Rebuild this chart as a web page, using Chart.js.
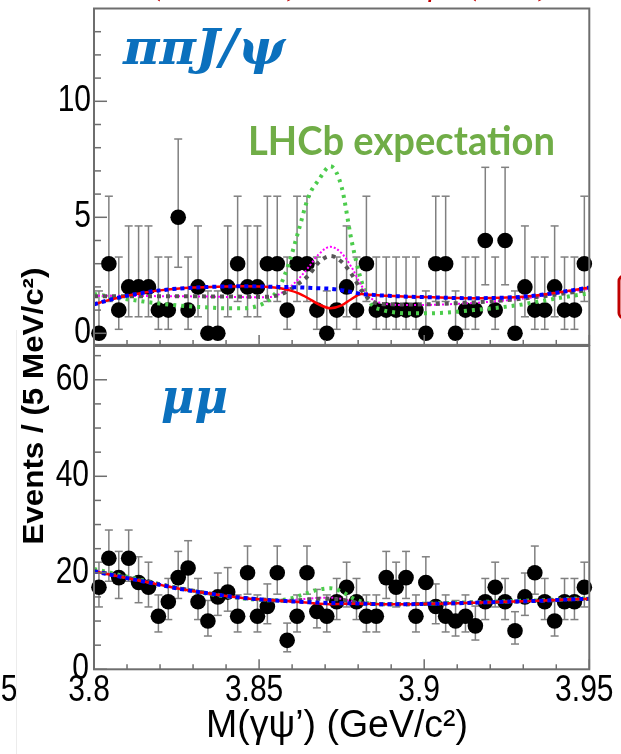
<!DOCTYPE html>
<html>
<head>
<meta charset="utf-8">
<script src="https://cdn.jsdelivr.net/npm/chart.js@4.4.1/dist/chart.umd.min.js"></script>
<style>
  html, body { margin: 0; padding: 0; background: #fff; }
  #wrap { position: relative; width: 621px; height: 754px; overflow: hidden; background: #fff; }
  #wrap canvas { position: absolute; left: 0; top: 0; }
</style>
</head>
<body>
<div id="wrap">
  <canvas id="pipiChart" width="621" height="754"></canvas>
  <canvas id="mumuChart" width="621" height="754"></canvas>
</div>
<script>
'use strict';

// M(gamma psi') histograms: 50 bins of 3 MeV from 3.80 to 3.95 GeV
var massMin = 3.8;
var massMax = 3.95;
var binWidth = 0.003;

var pipiCounts = [
  0, 3, 1, 2, 2, 2, 1, 1, 5, 1,
  2, 0, 0, 2, 3, 2, 2, 3, 3, 1,
  3, 3, 1, 0, 1, 2, 1, 3, 1, 1,
  1, 1, 1, 0, 3, 3, 0, 1, 1, 4,
  1, 4, 0, 2, 1, 1, 2, 1, 1, 3
];
var mumuCounts = [
  17, 23, 19, 23, 18, 17, 11, 14, 19, 21,
  14, 10, 15, 16, 11, 20, 11, 13, 20, 6,
  11, 20, 12, 11, 14, 17, 14, 11, 11, 19,
  17, 19, 11, 18, 13, 11, 10, 11, 9, 14,
  17, 14, 8, 15, 20, 14, 10, 14, 14, 17
];

// fit curves sampled along the mass axis
var curveMass = [
  3.800, 3.805, 3.810, 3.815, 3.820, 3.825, 3.830, 3.835, 3.840, 3.845,
  3.850, 3.853, 3.856, 3.859, 3.862, 3.865, 3.868, 3.8716, 3.875, 3.878,
  3.881, 3.884, 3.887, 3.890, 3.895, 3.900, 3.905, 3.910, 3.915, 3.920,
  3.925, 3.930, 3.935, 3.940, 3.945, 3.950
];

var pipiBkg = [
  1.25, 1.45, 1.62, 1.75, 1.85, 1.92, 1.97, 2.00, 2.02, 2.03,
  2.02, 2.01, 2.00, 1.99, 1.98, 1.96, 1.94, 1.92, 1.86, 1.78,
  1.70, 1.66, 1.63, 1.61, 1.58, 1.56, 1.54, 1.52, 1.51, 1.52,
  1.54, 1.58, 1.65, 1.75, 1.86, 1.97
];
var pipiTotal = [
  1.25, 1.45, 1.62, 1.75, 1.85, 1.92, 1.97, 2.00, 2.02, 2.03,
  2.02, 2.00, 1.95, 1.86, 1.72, 1.50, 1.25, 1.08, 1.20, 1.48,
  1.69, 1.66, 1.63, 1.61, 1.58, 1.56, 1.54, 1.52, 1.51, 1.52,
  1.54, 1.58, 1.65, 1.75, 1.86, 1.97
];
var pipiGray = [
  1.60, 1.60, 1.60, 1.60, 1.60, 1.60, 1.60, 1.59, 1.59, 1.58,
  1.57, 1.58, 1.65, 1.85, 2.15, 2.50, 3.05, 3.33, 3.08, 2.55,
  1.85, 1.40, 1.27, 1.25, 1.24, 1.25, 1.27, 1.30, 1.33, 1.37,
  1.43, 1.50, 1.58, 1.67, 1.77, 1.87
];
var pipiMagenta = [
  1.62, 1.62, 1.61, 1.61, 1.60, 1.60, 1.59, 1.58, 1.57, 1.56,
  1.55, 1.56, 1.68, 1.95, 2.35, 2.85, 3.40, 3.73, 3.45, 2.85,
  2.05, 1.50, 1.30, 1.24, 1.22, 1.22, 1.24, 1.27, 1.31, 1.36,
  1.42, 1.50, 1.59, 1.70, 1.81, 1.92
];
var pipiLHCb = [
  1.70, 1.58, 1.47, 1.37, 1.28, 1.21, 1.15, 1.11, 1.08, 1.08,
  1.20, 1.45, 1.95, 3.00, 4.45, 5.90, 6.60, 7.20, 6.30, 4.00,
  2.25, 1.25, 1.02, 0.92, 0.86, 0.86, 0.88, 0.93, 1.00, 1.07,
  1.15, 1.25, 1.38, 1.50, 1.62, 1.72
];

var mumuBkg = [
  20.3, 19.6, 18.9, 18.2, 17.5, 16.8, 16.2, 15.7, 15.2, 14.8,
  14.5, 14.35, 14.2, 14.1, 14.0, 13.9, 13.8, 13.75, 13.7, 13.65,
  13.6, 13.55, 13.5, 13.5, 13.5, 13.55, 13.6, 13.7, 13.8, 13.9,
  14.0, 14.1, 14.2, 14.35, 14.5, 14.6
];
var mumuTotal = [
  20.3, 19.6, 18.9, 18.2, 17.5, 16.8, 16.2, 15.7, 15.2, 14.8,
  14.5, 14.35, 14.2, 14.1, 13.95, 13.8, 13.6, 13.5, 13.55, 13.6,
  13.6, 13.55, 13.5, 13.5, 13.5, 13.55, 13.6, 13.7, 13.8, 13.9,
  14.0, 14.1, 14.2, 14.35, 14.5, 14.6
];
var mumuGray = [
  20.4, 19.7, 19.0, 18.3, 17.6, 16.9, 16.3, 15.7, 15.2, 14.8,
  14.5, 14.35, 14.2, 14.2, 14.3, 14.5, 14.6, 14.6, 14.4, 14.0,
  13.7, 13.55, 13.5, 13.5, 13.5, 13.55, 13.6, 13.7, 13.8, 13.9,
  14.0, 14.1, 14.2, 14.35, 14.5, 14.6
];
var mumuMagenta = [
  20.4, 19.7, 19.0, 18.3, 17.6, 16.9, 16.3, 15.7, 15.2, 14.8,
  14.5, 14.35, 14.25, 14.3, 14.45, 14.65, 14.8, 14.85, 14.6, 14.1,
  13.75, 13.55, 13.5, 13.5, 13.5, 13.55, 13.6, 13.7, 13.8, 13.9,
  14.0, 14.1, 14.2, 14.35, 14.5, 14.6
];
var mumuLHCb = [
  20.8, 20.0, 19.2, 18.4, 17.6, 16.9, 16.2, 15.6, 15.1, 14.7,
  14.4, 14.3, 14.3, 14.6, 15.2, 15.9, 16.5, 16.8, 16.1, 14.9,
  14.0, 13.6, 13.5, 13.5, 13.5, 13.6, 13.7, 13.8, 13.9, 14.0,
  14.1, 14.2, 14.3, 14.45, 14.6, 14.7
];

var massTickLabels = ['3.8', '3.85', '3.9', '3.95'];
var massTickValues = [3.8, 3.85, 3.9, 3.95];
var pipiYTicks = [0, 5, 10];
var mumuYTicks = [0, 20, 40, 60];

var frameColor = '#6e6e6e';
var tickFont = '30px "Liberation Sans", Arial, sans-serif';
var tickStretch = 1.2;

function binCenters(n) {
  var out = [];
  for (var i = 0; i < n; i++) {
    out.push(massMin + binWidth * (i + 0.5));
  }
  return out;
}

// Garwood 68% Poisson interval (Wilson-Hilferty form)
function poissonUp(n) {
  var m = n + 1;
  return m * Math.pow(1 - 1 / (9 * m) + 1 / (3 * Math.sqrt(m)), 3);
}
function poissonLow(n) {
  if (n === 0) return 0;
  return n * Math.pow(1 - 1 / (9 * n) - 1 / (3 * Math.sqrt(n)), 3);
}

function drawText(ctx, text, x, y, o) {
  ctx.save();
  ctx.translate(x, y);
  if (o.rotate) ctx.rotate(o.rotate);
  ctx.font = o.font;
  var sx = 1;
  if (o.width) sx = o.width / ctx.measureText(text).width;
  ctx.scale(sx, o.stretch || 1);
  ctx.fillStyle = o.color || '#000';
  ctx.textAlign = o.align || 'left';
  ctx.textBaseline = o.baseline || 'alphabetic';
  ctx.fillText(text, 0, 0);
  ctx.restore();
}

function line(ctx, x1, y1, x2, y2) {
  ctx.beginPath();
  ctx.moveTo(x1, y1);
  ctx.lineTo(x2, y2);
  ctx.stroke();
}

function curveDataset(ys, color, width, dash, order) {
  return {
    type: 'line',
    data: curveMass.map(function (m, i) { return { x: m, y: ys[i] }; }),
    borderColor: color,
    borderWidth: width,
    borderDash: dash,
    pointRadius: 0,
    fill: false,
    cubicInterpolationMode: 'monotone',
    order: order
  };
}

function makePanel(canvasId, p) {
  var centers = binCenters(p.counts.length);

  var rootFrame = {
    id: 'rootFrame',
    beforeDatasetsDraw: function (chart) {
      var ctx = chart.ctx, xs = chart.scales.x, ys = chart.scales.y;
      ctx.save();
      ctx.strokeStyle = '#808080';
      ctx.lineWidth = 1.5;
      p.counts.forEach(function (n, i) {
        var px = xs.getPixelForValue(centers[i]);
        var top = ys.getPixelForValue(poissonUp(n));
        var bot = ys.getPixelForValue(poissonLow(n));
        line(ctx, px, top, px, bot);
        line(ctx, px - 4, top, px + 4, top);
        line(ctx, px - 4, bot, px + 4, bot);
      });
      ctx.restore();
    },
    afterDraw: function (chart) {
      var ctx = chart.ctx, a = chart.chartArea;
      var xs = chart.scales.x, ys = chart.scales.y;
      ctx.save();
      ctx.strokeStyle = frameColor;
      ctx.lineWidth = 2;
      ctx.strokeRect(a.left, a.top, a.right - a.left, a.bottom - a.top);

      // inward ROOT-style ticks
      ctx.lineWidth = 1.5;
      for (var k = 0; k <= 15; k++) {
        var px = xs.getPixelForValue(massMin + k * 0.01);
        line(ctx, px, a.bottom, px, a.bottom - (k % 5 === 0 ? 10 : 5));
      }
      for (var v = 0; v <= p.yTickMax; v += p.yMinor) {
        var py = ys.getPixelForValue(v);
        line(ctx, a.left, py, a.left + (v % p.yMajor === 0 ? 13 : 7), py);
      }
      ctx.restore();

      p.yTicks.forEach(function (t) {
        drawText(ctx, String(t), p.yLabelRight, ys.getPixelForValue(t), {
          font: tickFont, align: 'right', baseline: 'middle', stretch: tickStretch
        });
      });
      if (p.decorate) p.decorate(ctx, chart);
    }
  };

  return new Chart(document.getElementById(canvasId), {
    type: 'scatter',
    data: {
      datasets: [
        curveDataset(p.bkg, '#0000ff', 4, [4, 4], 0),
        curveDataset(p.total, '#ff0000', 2.5, [], 1),
        curveDataset(p.gray, '#555555', 4, [4, 5], 2),
        curveDataset(p.magenta, '#ff00ff', 2, [2, 2], 3),
        curveDataset(p.lhcb, '#4ccc4c', 4, [3, 5], 4),
        {
          type: 'scatter',
          data: centers.map(function (m, i) { return { x: m, y: p.counts[i] }; }),
          pointRadius: 7.8,
          pointBackgroundColor: '#000',
          pointBorderWidth: 0,
          clip: false,
          order: 5
        }
      ]
    },
    options: {
      responsive: false,
      animation: false,
      events: [],
      layout: { padding: p.padding },
      plugins: { legend: { display: false }, tooltip: { enabled: false } },
      scales: {
        x: { type: 'linear', min: massMin, max: massMax, display: false },
        y: { type: 'linear', min: p.yMin, max: p.yMax, display: false }
      }
    },
    plugins: [rootFrame]
  });
}

makePanel('pipiChart', {
  counts: pipiCounts,
  bkg: pipiBkg, total: pipiTotal, gray: pipiGray, magenta: pipiMagenta, lhcb: pipiLHCb,
  yMin: -0.5, yMax: 14,
  yTicks: pipiYTicks, yMinor: 1, yMajor: 5, yTickMax: 13, yLabelRight: 91,
  padding: { left: 94, right: 31.7, top: 8.5, bottom: 409.1 },
  decorate: function (ctx) {
    drawText(ctx, 'ππJ/ψ', 123, 64, {
      font: 'bold italic 48px "DejaVu Serif", serif', width: 162, color: '#0b70bd'
    });
    drawText(ctx, 'LHCb expectation', 248, 155, {
      font: 'bold 40px Lato, sans-serif', width: 307, color: '#70ad47'
    });
    // lower edge of the slide heading above the plot
    var red = { font: 'bold italic 40px "Liberation Serif", serif', color: '#c00000', align: 'center' };
    drawText(ctx, '(', 157, -7, red);
    drawText(ctx, ')', 297, -7, red);
    drawText(ctx, 'J', 395, -7, red);
    drawText(ctx, 'ψ', 433, -7, red);
    drawText(ctx, '(', 473, -7, red);
    drawText(ctx, ')', 548, -7, red);
    ctx.save();
    ctx.strokeStyle = '#c00000';
    ctx.lineWidth = 3;
    ctx.beginPath();
    ctx.roundRect(619, 276, 40, 42, 5);
    ctx.stroke();
    ctx.restore();
  }
});

makePanel('mumuChart', {
  counts: mumuCounts,
  bkg: mumuBkg, total: mumuTotal, gray: mumuGray, magenta: mumuMagenta, lhcb: mumuLHCb,
  yMin: 0, yMax: 67,
  yTicks: mumuYTicks, yMinor: 5, yMajor: 20, yTickMax: 65, yLabelRight: 89,
  padding: { left: 94, right: 31.7, top: 346, bottom: 84.7 },
  decorate: function (ctx, chart) {
    var xs = chart.scales.x;
    massTickValues.forEach(function (v, i) {
      drawText(ctx, massTickLabels[i], xs.getPixelForValue(v) - 5, 691, {
        font: tickFont, align: 'center', baseline: 'middle', stretch: tickStretch
      });
    });
    drawText(ctx, '5', 9, 691, {
      font: tickFont, align: 'center', baseline: 'middle', stretch: tickStretch
    });
    drawText(ctx, 'M(γψ’) (GeV/c²)', 337, 737, {
      font: '32px "Liberation Sans", Arial, sans-serif', width: 262, align: 'center', stretch: 1.2
    });
    drawText(ctx, 'Events / (5 MeV/c²)', 43, 406, {
      font: 'bold 29px "Liberation Sans", Arial, sans-serif', width: 277, align: 'center',
      rotate: -Math.PI / 2
    });
    drawText(ctx, 'μμ', 161, 413, {
      font: 'bold italic 48px "DejaVu Serif", serif', width: 67, color: '#0b70bd'
    });
    ctx.save();
    ctx.strokeStyle = '#ececec';
    ctx.lineWidth = 1;
    line(ctx, 16.5, 330, 16.5, 754);
    ctx.restore();
  }
});
</script>
</body>
</html>
